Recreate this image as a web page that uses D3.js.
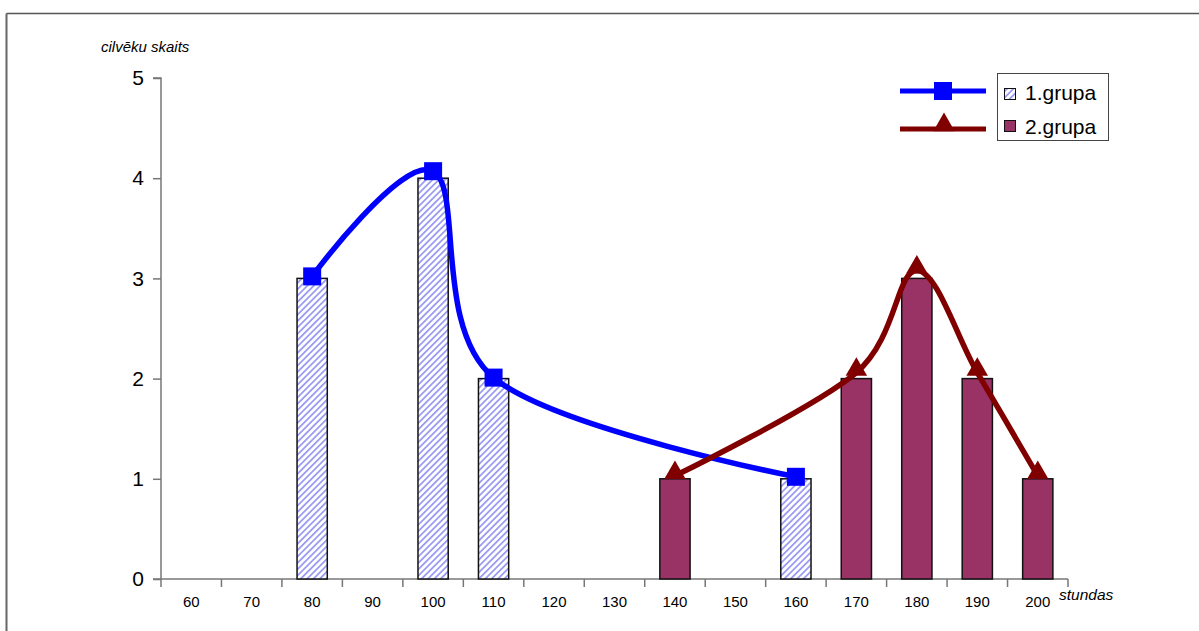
<!DOCTYPE html>
<html>
<head>
<meta charset="utf-8">
<script src="https://cdn.jsdelivr.net/npm/d3@7"></script>
<style>
  html, body { margin: 0; padding: 0; background: #fff; }
  svg { display: block; font-family: Arial, "Liberation Sans", sans-serif; }
</style>
</head>
<body>
<svg id="chart" width="1199" height="631"></svg>
<script>
// Categories on the x axis (hours)
const categories = ["60", "70", "80", "90", "100", "110", "120", "130", "140", "150", "160", "170", "180", "190", "200"];
const yTicks = [0, 1, 2, 3, 4, 5];

// Bar counts per group
const group1Bars = [
  { cat: "80", v: 3 }, { cat: "100", v: 4 }, { cat: "110", v: 2 }, { cat: "160", v: 1 }
];
const group2Bars = [
  { cat: "140", v: 1 }, { cat: "170", v: 2 }, { cat: "180", v: 3 }, { cat: "190", v: 2 }, { cat: "200", v: 1 }
];

// Smoothed frequency curves drawn over the bars
const group1Curve = [
  { cat: "80", v: 3.02 }, { cat: "100", v: 4.07 }, { cat: "110", v: 2.01 }, { cat: "160", v: 1.02 }
];
const group2Curve = [
  { cat: "140", v: 1.03 }, { cat: "170", v: 2.06 }, { cat: "180", v: 3.08 }, { cat: "190", v: 2.06 }, { cat: "200", v: 1.03 }
];

const legendLabels = ["1.grupa", "2.grupa"];
const yTitle = "cilvēku skaits";
const xTitle = "stundas";

const svg = d3.select("#chart");

// frame
svg.append("line").attr("x1", 6.5).attr("x2", 1199).attr("y1", 13.5).attr("y2", 13.5)
  .attr("stroke", "#555").attr("stroke-width", 1.5);
svg.append("line").attr("x1", 6.5).attr("x2", 6.5).attr("y1", 13.5).attr("y2", 631)
  .attr("stroke", "#666").attr("stroke-width", 2);

const plot = { left: 161, right: 1068, top: 78, bottom: 579 };

const x = d3.scaleBand().domain(categories).range([plot.left, plot.right]).paddingInner(0.5).paddingOuter(0.25);
const xTickScale = d3.scaleBand().domain(categories).range([plot.left, plot.right]);
const y = d3.scaleLinear().domain([0, 5]).range([plot.bottom, plot.top]);

// hatch pattern for group 1
const defs = svg.append("defs");
const pat = defs.append("pattern").attr("id", "hatch")
  .attr("patternUnits", "userSpaceOnUse").attr("width", 4.5).attr("height", 4.5)
  .attr("patternTransform", "rotate(45)");
pat.append("rect").attr("width", 4.5).attr("height", 4.5).attr("fill", "#fff");
pat.append("rect").attr("x", 0).attr("width", 1.8).attr("height", 4.5).attr("fill", "#9c9cf2");

// y axis
const yAxis = d3.axisLeft(y).tickValues(yTicks).tickSize(8).tickPadding(9).tickFormat(d3.format("d"));
const gy = svg.append("g").attr("transform", `translate(${plot.left},0)`).call(yAxis);
gy.select(".domain").attr("stroke", "#777").attr("stroke-width", 1.5).attr("d", `M-8,${plot.top}H0V${plot.bottom}`);
gy.selectAll(".tick line").attr("stroke", "#777").attr("stroke-width", 1.5);
gy.selectAll(".tick text").attr("font-size", 21).attr("fill", "#000")
  .attr("font-family", "Arial, 'Liberation Sans', sans-serif");

// x axis with ticks on band boundaries
const gx = svg.append("g").attr("transform", `translate(0,${plot.bottom})`);
gx.append("line").attr("x1", plot.left - 8).attr("x2", plot.right).attr("y1", 0).attr("y2", 0)
  .attr("stroke", "#777").attr("stroke-width", 1.5);
const boundaries = categories.map(c => xTickScale(c)).concat([plot.right]);
gx.selectAll("line.tick").data(boundaries).join("line").attr("class", "tick")
  .attr("x1", d => d).attr("x2", d => d).attr("y1", 0).attr("y2", 8)
  .attr("stroke", "#777").attr("stroke-width", 1.5);
gx.selectAll("text").data(categories).join("text")
  .attr("x", d => xTickScale(d) + xTickScale.bandwidth() / 2)
  .attr("y", 28).attr("text-anchor", "middle").attr("font-size", 15).attr("fill", "#000")
  .text(d => d);

// axis titles
svg.append("text").attr("x", 101).attr("y", 52).attr("font-size", 15).attr("font-style", "italic")
  .attr("fill", "#000").text(yTitle);
svg.append("text").attr("x", 1059).attr("y", 600).attr("font-size", 15.5).attr("font-style", "italic")
  .attr("fill", "#000").text(xTitle);

// bars
svg.append("g").selectAll("rect").data(group1Bars).join("rect")
  .attr("x", d => x(d.cat)).attr("width", x.bandwidth())
  .attr("y", d => y(d.v)).attr("height", d => y(0) - y(d.v))
  .attr("fill", "url(#hatch)").attr("stroke", "#111").attr("stroke-width", 1.5);
svg.append("g").selectAll("rect").data(group2Bars).join("rect")
  .attr("x", d => x(d.cat)).attr("width", x.bandwidth())
  .attr("y", d => y(d.v)).attr("height", d => y(0) - y(d.v))
  .attr("fill", "#993366").attr("stroke", "#111").attr("stroke-width", 1.5);

// curves
const cx = d => x(d.cat) + x.bandwidth() / 2;
const line = d3.line().x(cx).y(d => y(d.v)).curve(d3.curveCardinal.tension(0));

svg.append("path").datum(group1Curve).attr("d", line).attr("fill", "none")
  .attr("stroke", "#0000ff").attr("stroke-width", 5.5);
svg.append("path").datum(group2Curve).attr("d", line).attr("fill", "none")
  .attr("stroke", "#800000").attr("stroke-width", 5.5);

const sq = 18;
svg.append("g").selectAll("rect").data(group1Curve).join("rect")
  .attr("x", d => cx(d) - sq / 2).attr("y", d => y(d.v) - sq / 2)
  .attr("width", sq).attr("height", sq).attr("fill", "#0000ff");

const tri = d3.symbol().type(d3.symbolTriangle).size(200);
svg.append("g").selectAll("path").data(group2Curve).join("path")
  .attr("d", tri).attr("transform", d => `translate(${cx(d)},${y(d.v) - 3})`)
  .attr("fill", "#800000");

// legend
const lg = svg.append("g");
lg.append("rect").attr("x", 997.5).attr("y", 73.5).attr("width", 111).attr("height", 67)
  .attr("fill", "#fff").attr("stroke", "#444").attr("stroke-width", 1);
const legendY = [91, 129];
lg.append("line").attr("x1", 900).attr("x2", 986).attr("y1", legendY[0]).attr("y2", legendY[0])
  .attr("stroke", "#0000ff").attr("stroke-width", 5);
lg.append("rect").attr("x", 943 - sq / 2).attr("y", legendY[0] - sq / 2).attr("width", sq).attr("height", sq)
  .attr("fill", "#0000ff");
lg.append("line").attr("x1", 900).attr("x2", 986).attr("y1", legendY[1]).attr("y2", legendY[1])
  .attr("stroke", "#800000").attr("stroke-width", 5);
lg.append("path").attr("d", tri).attr("transform", `translate(944,${legendY[1] - 4})`).attr("fill", "#800000");

const swatchY = [88, 120];
lg.append("rect").attr("x", 1004.5).attr("y", swatchY[0] + 0.5).attr("width", 11).attr("height", 11)
  .attr("fill", "url(#hatch)").attr("stroke", "#111").attr("stroke-width", 1);
lg.append("rect").attr("x", 1004.5).attr("y", swatchY[1] + 0.5).attr("width", 11).attr("height", 11)
  .attr("fill", "#993366").attr("stroke", "#111").attr("stroke-width", 1);
const textY = [100, 134];
lg.selectAll("text").data(legendLabels).join("text")
  .attr("x", 1025).attr("y", (d, i) => textY[i]).attr("font-size", 21).attr("fill", "#000")
  .text(d => d);
</script>
</body>
</html>
